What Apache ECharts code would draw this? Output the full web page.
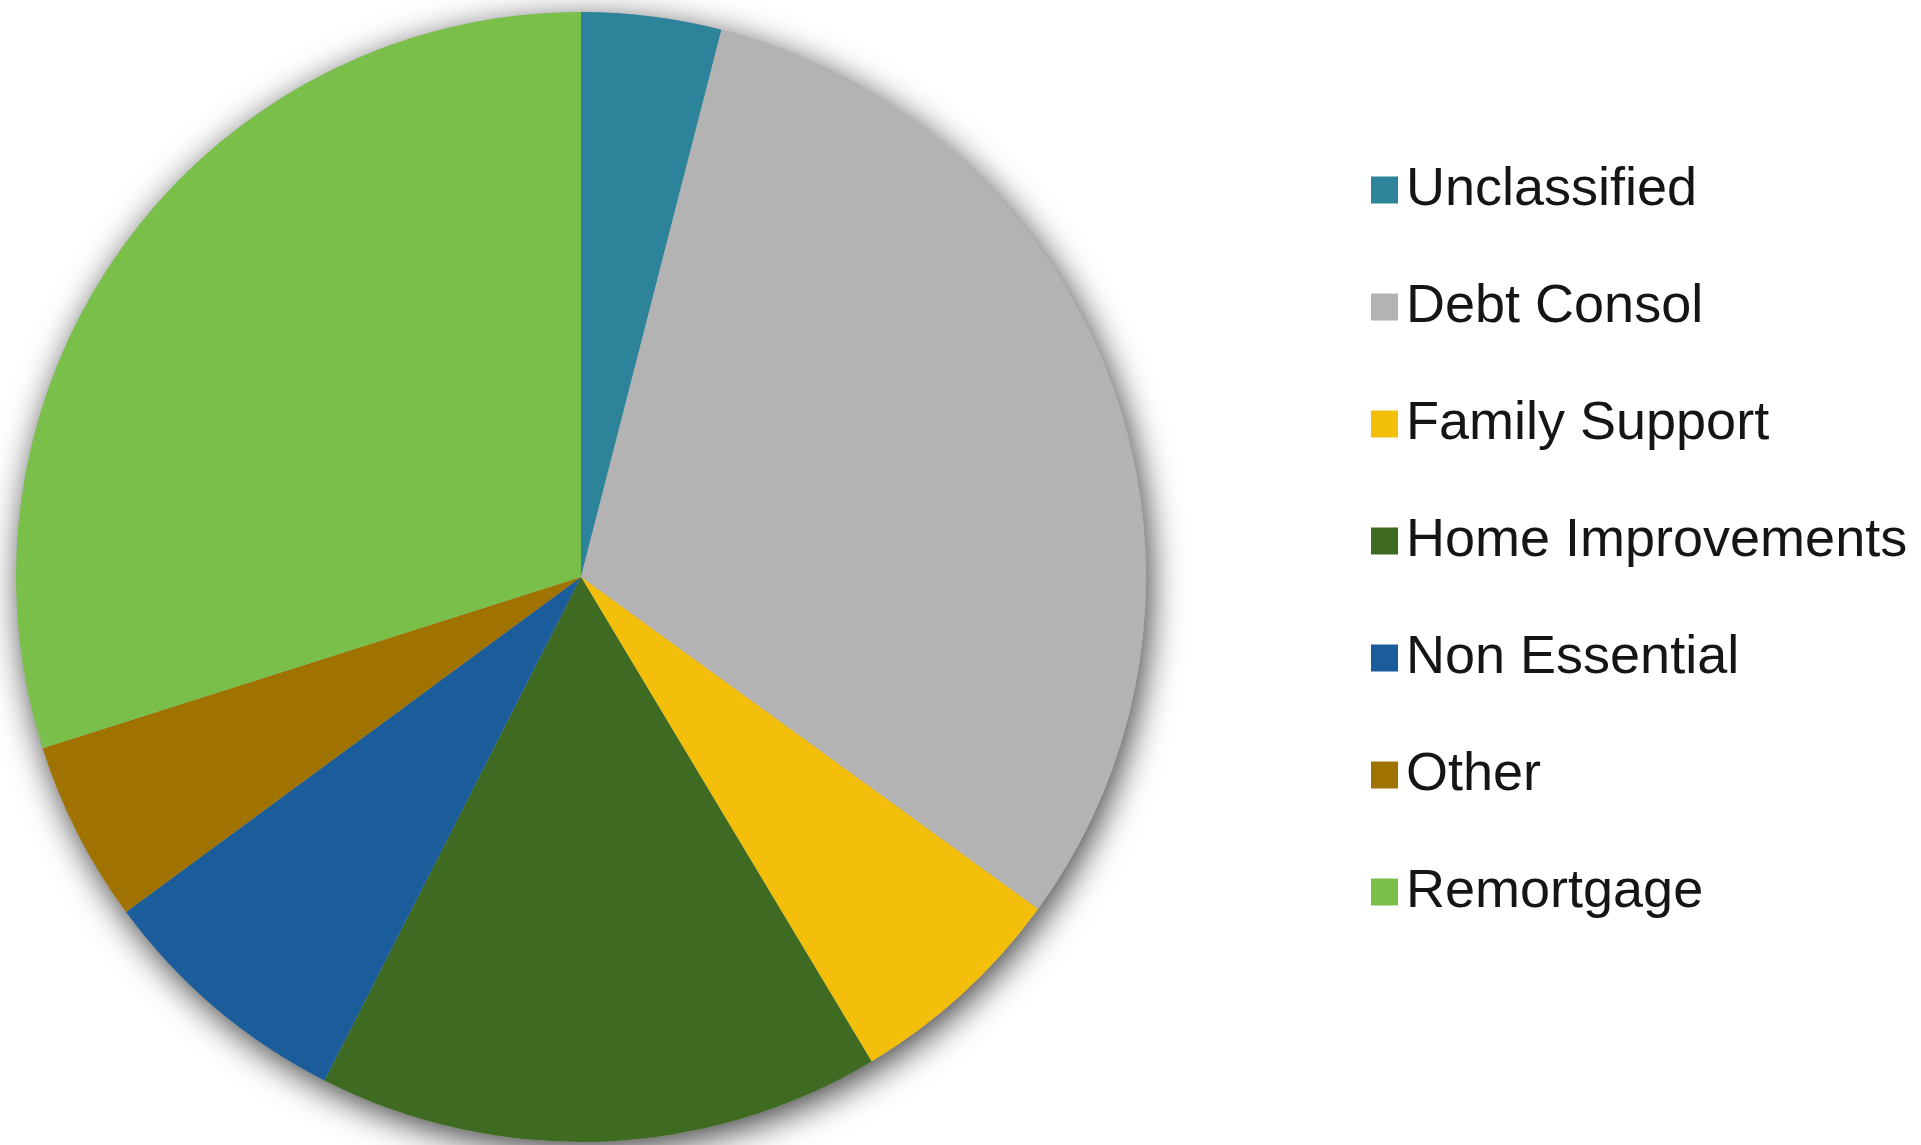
<!DOCTYPE html>
<html>
<head>
<meta charset="utf-8">
<script src="https://cdn.jsdelivr.net/npm/echarts@6/dist/echarts.min.js"></script>
<style>
  html, body { margin: 0; padding: 0; background: #ffffff; }
  #chart { width: 1921px; height: 1145px; }
</style>
</head>
<body>
<div id="chart"></div>
<script>
// Loan purpose breakdown (share of total, %)
const categories = ['Unclassified', 'Debt Consol', 'Family Support', 'Home Improvements', 'Non Essential', 'Other', 'Remortgage'];
const shares = [4.0, 31.0, 6.4, 16.1, 7.4, 5.2, 29.9];
const colors = ['#2d8399', '#b3b3b3', '#f4bf0a', '#3e6a22', '#1b5c9b', '#a07300', '#79bf4a'];

const chart = echarts.init(document.getElementById('chart'));

const total = shares.reduce((a, b) => a + b, 0);
const center = ['581', '577'];
const radius = 565;

chart.setOption({
  animation: false,
  backgroundColor: '#ffffff',
  legend: {
    orient: 'vertical',
    left: 1366,
    top: 155,
    itemWidth: 27,
    itemHeight: 27,
    itemGap: 57,
    icon: 'rect',
    data: categories,
    textStyle: {
      fontFamily: '"Liberation Sans", Arial, Helvetica, sans-serif',
      fontSize: 54,
      lineHeight: 60,
      color: '#151515',
      padding: [0, 0, 0, 3]
    }
  },
  series: [
    {
      // soft drop shadow behind the whole disc
      type: 'pie',
      silent: true,
      legendHoverLink: false,
      center: center,
      radius: radius,
      z: 1,
      label: { show: false },
      labelLine: { show: false },
      data: [{
        value: total,
        name: '',
        itemStyle: {
          color: '#b0b0b0',
          shadowBlur: 34,
          shadowColor: 'rgba(0,0,0,0.75)',
          shadowOffsetX: 4,
          shadowOffsetY: 8
        }
      }]
    },
    {
      type: 'pie',
      center: center,
      radius: radius,
      startAngle: 90,
      clockwise: true,
      z: 2,
      label: { show: false },
      labelLine: { show: false },
      itemStyle: { borderWidth: 0 },
      data: categories.map((name, i) => ({
        name: name,
        value: shares[i],
        itemStyle: { color: colors[i] }
      }))
    }
  ]
});
</script>
</body>
</html>
